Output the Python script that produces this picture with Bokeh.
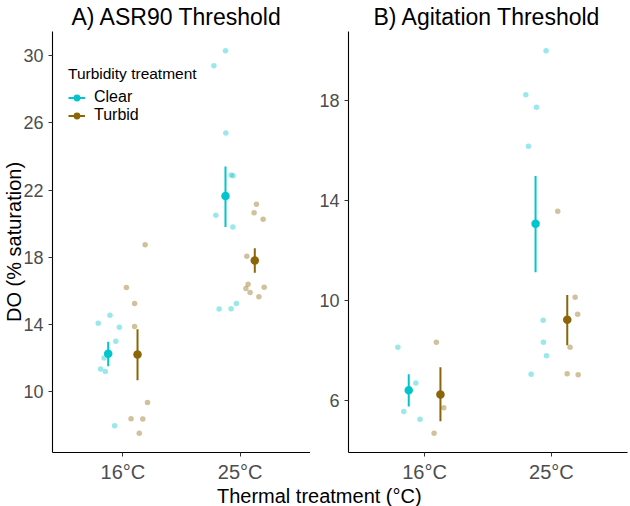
from bokeh.plotting import figure
from bokeh.layouts import row, column
from bokeh.models import Range1d, FixedTicker, Legend, LegendItem, Label
from bokeh.embed import file_html
from bokeh.resources import INLINE

FONT = "Liberation Sans"

temps = ["16°C", "25°C"]
temp_pos = [1, 2]
treatments = ["Clear", "Turbid"]
colors = {"Clear": "#00C5CD", "Turbid": "#8B6508"}
dodge = {"Clear": -0.125, "Turbid": 0.125}

# ---- Panel A: ASR90 threshold (raw observations) ----
asr_clear_16 = [14.54, 14.07, 13.83, 13.00, 12.00, 11.34, 11.20, 7.97]
asr_clear_16_jit = [-0.11, -0.21, -0.03, -0.06, -0.16, -0.19, -0.15, -0.07]
asr_turbid_16 = [18.74, 16.20, 15.25, 13.87, 9.35, 8.38, 8.37, 7.51]
asr_turbid_16_jit = [0.19, 0.03, 0.10, 0.10, 0.21, 0.07, 0.17, 0.14]
asr_clear_25 = [30.30, 29.40, 25.40, 22.90, 22.85, 20.50, 19.80, 14.91, 14.93, 15.25]
asr_clear_25_jit = [-0.125, -0.224, -0.122, -0.077, -0.060, -0.207, -0.062, -0.179, -0.077, -0.032]
asr_turbid_25 = [21.15, 20.65, 20.26, 18.05, 16.39, 16.14, 15.90, 16.21, 15.64]
asr_turbid_25_jit = [0.139, 0.119, 0.196, 0.057, 0.068, 0.049, 0.085, 0.205, 0.160]

# means and error limits (16°C, 25°C)
asr_mean = {"Clear": [12.25, 21.64], "Turbid": [12.21, 17.81]}
asr_lo = {"Clear": [11.50, 19.80], "Turbid": [10.67, 17.07]}
asr_hi = {"Clear": [12.96, 23.40], "Turbid": [13.71, 18.54]}
asr_ticks = [10, 14, 18, 22, 26, 30]

# ---- Panel B: Agitation threshold ----
agi_clear_16 = [8.13, 6.70, 5.56, 5.25]
agi_clear_16_jit = [-0.211, -0.069, -0.164, -0.036]
agi_turbid_16 = [8.33, 5.71, 4.69]
agi_turbid_16_jit = [0.093, 0.151, 0.075]
agi_clear_25 = [19.98, 18.22, 17.72, 16.16, 9.21, 8.33, 7.79, 7.05]
agi_clear_25_jit = [-0.042, -0.202, -0.118, -0.181, -0.065, -0.063, -0.039, -0.160]
agi_turbid_25 = [13.56, 10.13, 9.45, 8.13, 7.07, 7.03]
agi_turbid_25_jit = [0.050, 0.187, 0.207, 0.147, 0.124, 0.211]

agi_mean = {"Clear": [6.41, 13.06], "Turbid": [6.24, 9.23]}
agi_lo = {"Clear": [5.76, 11.13], "Turbid": [5.17, 8.21]}
agi_hi = {"Clear": [7.05, 14.97], "Turbid": [7.33, 10.22]}
agi_ticks = [6, 10, 14, 18]

asr_raw = {
    "Clear": [(asr_clear_16, asr_clear_16_jit), (asr_clear_25, asr_clear_25_jit)],
    "Turbid": [(asr_turbid_16, asr_turbid_16_jit), (asr_turbid_25, asr_turbid_25_jit)],
}
agi_raw = {
    "Clear": [(agi_clear_16, agi_clear_16_jit), (agi_clear_25, agi_clear_25_jit)],
    "Turbid": [(agi_turbid_16, agi_turbid_16_jit), (agi_turbid_25, agi_turbid_25_jit)],
}


def make_panel(title, raw, mean, lo, hi, yticks, yrange, width, left, right, title_offset, ylabel=None):
    p = figure(width=width, height=485, x_range=Range1d(0.4, 2.6), y_range=Range1d(*yrange),
               output_backend="svg", toolbar_location=None,
               min_border_left=left, min_border_right=right, min_border_top=31, min_border_bottom=0)
    p.title.text = title
    p.title.align = "left"
    p.title.offset = title_offset
    p.title.text_font = FONT
    p.title.text_font_size = "23px"
    p.title.text_font_style = "normal"
    p.title.text_color = "black"
    p.title.standoff = 3
    p.xgrid.visible = False
    p.ygrid.visible = False
    p.outline_line_color = None

    for ax in (p.xaxis[0], p.yaxis[0]):
        ax.axis_line_color = "black"
        ax.axis_line_width = 1.1
        ax.major_tick_line_color = "#333333"
        ax.major_tick_in = 0
        ax.major_tick_out = 4
        ax.minor_tick_line_color = None
        ax.major_label_text_font = FONT
        ax.major_label_text_color = "#4D4D4D"
    p.xaxis.ticker = FixedTicker(ticks=temp_pos)
    p.xaxis.major_label_overrides = {tp: t for tp, t in zip(temp_pos, temps)}
    p.xaxis.major_label_text_font_size = "20px"
    p.xaxis.major_label_standoff = 4
    p.yaxis.ticker = FixedTicker(ticks=yticks)
    p.yaxis.major_label_text_font_size = "18px"
    p.yaxis.major_label_standoff = 5
    if ylabel:
        p.yaxis.axis_label = ylabel
        p.yaxis.axis_label_text_font = FONT
        p.yaxis.axis_label_text_font_size = "20px"
        p.yaxis.axis_label_text_font_style = "normal"
        p.yaxis.axis_label_text_color = "black"
        p.yaxis.axis_label_standoff = -5

    rends = {}
    for tr in treatments:
        xs, ys = [], []
        for tp, (vals, jit) in zip(temp_pos, raw[tr]):
            xs += [tp + j for j in jit]
            ys += vals
        p.scatter(xs, ys, size=5.5, fill_color=colors[tr], fill_alpha=0.4, line_color=None)
    for tr in treatments:
        mx = [tp + dodge[tr] for tp in temp_pos]
        seg = p.segment(x0=mx, y0=lo[tr], x1=mx, y1=hi[tr], line_color=colors[tr], line_width=2)
        pt = p.scatter(mx, mean[tr], size=8.5, fill_color=colors[tr], line_color=None)
        rends[tr] = [seg, pt]
    return p, rends


asr_range = (6.37, 31.44)
agi_range = (3.925, 20.745)

pA, rendsA = make_panel("A) ASR90 Threshold", asr_raw, asr_mean, asr_lo, asr_hi, asr_ticks,
                        asr_range, 310, 52, 0, 19, ylabel="DO (% saturation)")
pB, _ = make_panel("B) Agitation Threshold", agi_raw, agi_mean, agi_lo, agi_hi, agi_ticks,
                   agi_range, 320, 38, 3, 25)

legend = Legend(items=[LegendItem(label=tr, renderers=rendsA[tr]) for tr in treatments],
                location=(16, 328), title="Turbidity treatment",
                title_text_font=FONT, title_text_font_size="15.5px", title_text_font_style="normal",
                title_text_color="black", title_standoff=5,
                label_text_font=FONT, label_text_font_size="16px", label_text_color="black",
                glyph_width=17, glyph_height=17, label_height=17, label_standoff=9,
                spacing=0, padding=0, margin=0,
                background_fill_alpha=0, border_line_alpha=0)
pA.add_layout(legend)

pX = figure(width=630, height=21, x_range=Range1d(0, 1), y_range=Range1d(0, 1),
            output_backend="svg", toolbar_location=None, x_axis_location=None, y_axis_location=None,
            min_border=0)
pX.xgrid.visible = False
pX.ygrid.visible = False
pX.outline_line_color = None
pX.add_layout(Label(x=0.506, y=0.5, text="Thermal treatment (°C)", text_align="center",
                    text_baseline="middle", text_font=FONT, text_font_size="20px", text_color="black"))

layout = column(row(pA, pB), pX)

open("out.html", "w").write(file_html(layout, INLINE))
